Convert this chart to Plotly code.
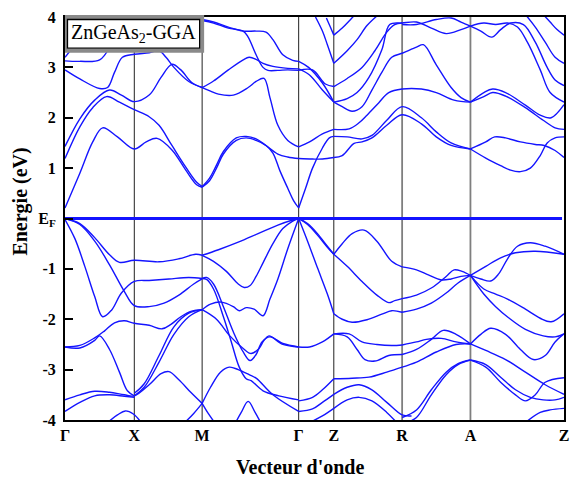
import plotly.graph_objects as go

# ---- high-symmetry path (k positions) ----
k_ticks = [65, 135, 203.5, 301, 336.5, 405.5, 474.5, 569]
k_labels = ['Γ', 'X', 'M', 'Γ', 'Z', 'R', 'A', 'Z']
e_ticks = [4, 3, 2, 1, 0, -1, -2, -3, -4]
e_labels = ['4', '3', '2', '1', 'E<sub>F</sub>', '-1', '-2', '-3', '-4']

# ---- Γ-X-M conduction ----
gxm_c1 = ([65, 80, 93, 103, 118, 135, 147, 158, 173, 187, 198, 203.5],
          [0.21, 0.9, 1.52, 1.8, 1.62, 1.38, 1.52, 1.59, 1.36, 0.96, 0.67, 0.62])
gxm_c2 = ([65, 80, 93, 107, 120, 135, 150, 160, 173, 187, 198, 203.5],
          [1.19, 1.82, 2.2, 2.42, 2.31, 2.16, 2.02, 1.85, 1.45, 1.02, 0.72, 0.64])
gxm_c3 = ([65, 80, 95, 110, 122, 135, 150, 162, 173, 182, 193, 203.5],
          [1.43, 1.98, 2.35, 2.55, 2.45, 2.32, 2.45, 2.8, 3.06, 2.95, 2.7, 2.6])
gxm_c4 = ([65, 80, 100, 108, 115, 123, 135, 150, 160, 167, 175, 190, 203.5],
          [2.95, 2.77, 2.58, 2.6, 2.9, 3.2, 3.26, 3.29, 3.33, 3.2, 3.0, 2.72, 2.6])
gxm_c5 = ([65, 80, 100, 110], [3.13, 3.12, 3.15, 3.4])
gxm_c6 = ([65, 75], [3.2, 3.45])

# ---- Γ-X-M valence ----
gxm_v1 = ([65, 80, 95, 110, 120, 135, 160, 180, 197, 203.5],
          [0, -0.1, -0.38, -0.72, -0.87, -0.83, -0.86, -0.8, -0.71, -0.73])
gxm_v2 = ([65, 80, 95, 110, 125, 135, 150, 165, 180, 195, 203.5],
          [0, -0.12, -0.45, -0.92, -1.45, -1.73, -1.75, -1.68, -1.52, -1.3, -1.2])
gxm_v3 = ([65, 75, 85, 95, 103, 112, 122, 135, 150, 170, 190, 203.5],
          [-0.02, -0.4, -0.95, -1.55, -1.95, -1.82, -1.48, -1.25, -1.23, -1.2, -1.17, -1.19])
gxm_v4 = ([65, 80, 95, 105, 115, 125, 135, 150, 163, 172, 182, 193, 203.5],
          [-2.55, -2.52, -2.37, -2.23, -2.07, -2.03, -2.08, -2.12, -2.19, -2.1, -1.95, -1.84, -1.81])
gxm_v5 = ([65, 80, 95, 100, 110, 120, 128, 135],
          [-2.55, -2.57, -2.42, -2.33, -2.6, -3.05, -3.42, -3.52])
gxm_v6 = ([135, 145, 160, 175, 190, 203.5], [-3.52, -3.35, -2.85, -2.3, -1.95, -1.81])
gxm_v7 = ([135, 145, 160, 175, 190, 203.5], [-3.47, -3.28, -2.72, -2.15, -1.88, -1.81])
gxm_v8 = ([65, 80, 95, 110, 125, 135, 150, 162, 170, 180, 192, 203.5],
          [-3.6, -3.5, -3.43, -3.45, -3.5, -3.52, -3.3, -3.08, -3.04, -3.2, -3.45, -3.67])
gxm_v9 = ([65, 80, 95, 110, 125, 135], [-3.83, -3.65, -3.52, -3.5, -3.53, -3.55])
gxm_v10 = ([108, 118, 126, 134, 142], [-4.05, -3.9, -3.82, -3.88, -4.05])
gxm_v11 = ([186, 195, 203.5], [-4.05, -3.87, -3.67])

# ---- M-Γ conduction ----
mg_c1 = ([203.5, 211, 218, 225, 238, 248, 258, 268, 275, 282, 290, 296, 301],
         [0.62, 0.75, 1.0, 1.28, 1.55, 1.6, 1.55, 1.45, 1.3, 0.95, 0.6, 0.35, 0.21])
mg_c2 = ([203.5, 211, 218, 225, 238, 248, 258, 268, 280, 290, 301],
         [0.63, 0.8, 1.06, 1.33, 1.6, 1.63, 1.58, 1.45, 1.28, 1.22, 1.19])
mg_c3 = ([203.5, 212, 220, 235, 250, 258, 266, 272, 280, 290, 301],
         [2.6, 2.53, 2.47, 2.45, 2.6, 2.72, 2.78, 2.4, 1.85, 1.55, 1.42])
mg_c4 = ([203.5, 215, 230, 245, 251, 258, 265, 275, 290, 301],
         [2.6, 2.73, 2.95, 3.15, 3.2, 3.16, 3.08, 3.02, 2.98, 2.97])
mg_c5 = ([203.5, 215, 230, 245, 250, 258, 265, 270, 280, 290, 301],
         [3.93, 3.88, 3.78, 3.72, 3.6, 3.25, 3.0, 2.94, 2.94, 2.95, 2.94])
mg_c6 = ([203.5, 215, 230, 245, 258, 268, 275, 285, 295, 301],
         [3.95, 3.9, 3.8, 3.72, 3.72, 3.7, 3.55, 3.25, 3.14, 3.12])

# ---- M-Γ valence ----
mg_vA = ([203.5, 220, 240, 260, 280, 295, 301], [-0.73, -0.62, -0.47, -0.3, -0.13, -0.03, 0])
mg_vB = ([203.5, 215, 228, 240, 246, 252, 258, 265, 275, 285, 295, 301],
         [-0.73, -0.85, -1.05, -1.3, -1.37, -1.33, -1.15, -0.88, -0.5, -0.2, -0.05, 0])
mg_vC = ([203.5, 212, 223, 235, 241, 248, 256, 265, 272, 280, 290, 301],
         [-1.81, -1.7, -1.66, -1.75, -1.83, -1.77, -1.8, -1.93, -1.6, -1.2, -0.6, 0])
mg_vD = ([203.5, 208, 215, 225, 235, 245, 252, 258, 264, 272, 285, 301],
         [-1.19, -1.17, -1.3, -1.75, -2.25, -2.65, -2.82, -2.7, -2.45, -2.35, -2.48, -2.55])
mg_vE = ([203.5, 208, 215, 225, 233, 241, 248, 253, 265, 281, 301],
         [-1.19, -1.21, -1.4, -1.95, -2.45, -2.95, -3.18, -3.22, -3.42, -3.52, -3.6])
mg_vF = ([203.5, 218, 231, 245, 253, 261, 266, 271, 285, 301],
         [-1.81, -2.0, -2.32, -2.58, -2.68, -2.58, -2.42, -2.33, -2.5, -2.55])
mg_vG = ([203.5, 212, 222, 231, 240, 251, 258, 275, 301],
         [-3.67, -3.35, -3.05, -2.95, -3.0, -3.1, -3.17, -3.5, -3.83])
mg_vH = ([236, 243, 250, 257, 264], [-4.1, -3.85, -3.63, -3.85, -4.1])
mg_v8b = ([203.5, 210, 218], [-3.67, -3.88, -4.1])

# ---- Γ-Z ----
gz_c1 = ([301, 308, 315, 325, 332, 336.5], [0.21, 0.6, 1.0, 1.4, 1.6, 1.63])
gz_c2 = ([301, 315, 325, 336.5], [1.19, 1.18, 1.18, 1.21])
gz_c3 = ([301, 312, 325, 336.5], [1.42, 1.52, 1.68, 1.77])
gz_c4 = ([301, 312, 325, 336.5], [2.97, 2.85, 2.55, 2.31])
gz_c5 = ([301, 315, 328, 336.5], [2.94, 2.95, 2.67, 2.62])
gz_c6 = ([301, 311, 325, 336.5], [3.12, 3.0, 2.69, 2.31])
gz_c7 = ([318, 325, 330, 336.5], [4.0, 3.72, 3.45, 3.08])
gz_c8 = ([329, 333, 336.5], [3.98, 3.8, 3.64])
gz_vA = ([301, 310, 320, 330, 336.5], [0, -0.1, -0.3, -0.55, -0.71])
gz_vB = ([301, 310, 320, 330, 336.5], [0, -0.12, -0.33, -0.57, -0.71])
gz_vC = ([301, 310, 320, 330, 336.5], [0, -0.45, -0.98, -1.5, -1.89])
gz_vD = ([301, 312, 325, 336.5], [-2.55, -2.55, -2.45, -2.29])
gz_v1 = ([301, 315, 325, 336.5], [-3.62, -3.55, -3.4, -3.18])
gz_v2 = ([301, 315, 325, 336.5], [-3.83, -3.78, -3.65, -3.49])
gz_v3 = ([312, 325, 336.5], [-4.05, -3.92, -3.77])

# ---- Z-R-A-Z conduction ----
zra_c1 = ([336.5, 345, 357, 365, 375, 390, 405.5, 425, 440, 455, 474.5],
          [1.21, 1.25, 1.49, 1.52, 1.6, 1.85, 2.06, 1.88, 1.62, 1.45, 1.38])
zra_c2 = ([336.5, 350, 365, 375, 390, 405.5, 425, 440, 455, 474.5],
          [1.63, 1.62, 1.58, 1.65, 1.95, 2.22, 2.0, 1.72, 1.5, 1.38])
zra_c3 = ([336.5, 352, 362, 370, 382, 392, 405.5, 425, 440, 458, 474.5],
          [1.77, 1.78, 1.9, 2.05, 2.3, 2.5, 2.57, 2.57, 2.5, 2.35, 2.31])
zra_c4 = ([336.5, 345, 355, 365, 375, 385, 395, 405.5, 420, 427, 440, 455, 465, 474.5],
          [2.31, 2.22, 2.13, 2.22, 2.55, 2.9, 3.2, 3.28, 3.4, 3.45, 3.05, 2.6, 2.4, 2.31])
zra_c5 = ([336.5, 350, 365, 378, 390, 398, 405.5], [2.62, 2.78, 3.0, 3.33, 3.7, 3.85, 3.88])
zra_c6 = ([336.5, 350, 360, 370, 380], [3.08, 3.33, 3.55, 3.83, 4.02])
zra_c7 = ([336.5, 345, 352, 358], [3.64, 3.78, 3.92, 4.05])
zra_c8 = ([336.5, 350, 360, 372, 385, 393, 405.5, 420, 435, 450, 465, 474.5],
          [2.31, 2.38, 2.5, 2.8, 3.35, 3.85, 3.88, 3.9, 3.78, 3.67, 3.75, 3.82])
zra_c9 = ([405.5, 420, 440, 455, 465, 474.5], [3.85, 3.85, 3.95, 3.98, 3.9, 3.82])
az_c1 = ([474.5, 490, 499, 510, 525, 540, 549, 560, 569], [1.38, 1.52, 1.62, 1.6, 1.52, 1.47, 1.45, 1.35, 1.21])
az_c2 = ([474.5, 490, 505, 515, 525, 535, 545, 552, 560, 569], [1.38, 1.2, 1.05, 0.96, 0.93, 1.0, 1.25, 1.5, 1.6, 1.62])
az_c3 = ([474.5, 488, 497, 510, 530, 545, 556, 569], [2.31, 2.5, 2.57, 2.5, 2.25, 2.05, 2.0, 2.26])
az_c4 = ([474.5, 488, 497, 510, 530, 548, 560, 569], [2.31, 2.42, 2.5, 2.43, 2.2, 1.95, 1.8, 1.77])
az_c5 = ([474.5, 485, 496, 505, 515, 528, 540, 552, 560, 569], [3.82, 3.72, 3.6, 3.75, 3.88, 3.85, 3.5, 3.0, 2.75, 2.64])
az_c6 = ([474.5, 488, 500, 512, 522, 532, 545, 555, 569], [3.82, 3.88, 3.85, 3.88, 3.8, 3.5, 2.95, 2.5, 2.31])
az_c7 = ([530, 540, 550, 560, 569], [4.05, 3.8, 3.5, 3.2, 3.08])
az_c8 = ([548, 555, 562, 569], [4.05, 3.9, 3.75, 3.64])

# ---- Z-R-A-Z valence ----
zr_v1 = ([336.5, 345, 355, 367, 380, 395, 405.5], [-0.71, -0.5, -0.3, -0.23, -0.45, -0.85, -0.96])
zr_v2 = ([336.5, 350, 365, 380, 392, 398, 405.5], [-0.71, -0.95, -1.25, -1.52, -1.67, -1.63, -1.59])
zr_v3 = ([336.5, 345, 355, 370, 385, 395, 405.5], [-1.89, -2.0, -2.06, -2.01, -1.9, -1.83, -1.86])
zr_v4 = ([336.5, 352, 365, 380, 395, 405.5], [-2.29, -2.29, -2.45, -2.5, -2.52, -2.51])
zr_v5 = ([336.5, 350, 360, 368, 378, 392, 405.5], [-2.29, -2.35, -2.6, -2.8, -2.83, -2.72, -2.7])
zr_v6 = ([336.5, 355, 372, 390, 405.5], [-3.18, -3.17, -3.15, -3.05, -2.95])
zr_v7 = ([336.5, 350, 362, 375, 390, 405.5, 415], [-3.49, -3.35, -3.3, -3.4, -3.65, -3.9, -3.92])
zr_v8 = ([336.5, 350, 362, 375, 390, 400], [-3.77, -3.6, -3.55, -3.62, -3.85, -4.05])
ra_v1 = ([405.5, 420, 432, 445, 455, 465, 474.5], [-0.96, -1.02, -1.12, -1.22, -1.2, -1.15, -1.13])
ra_v2 = ([405.5, 420, 435, 450, 458, 466, 474.5], [-1.59, -1.52, -1.38, -1.15, -1.02, -1.05, -1.13])
ra_v3 = ([405.5, 420, 435, 450, 462, 474.5], [-1.86, -1.8, -1.68, -1.48, -1.28, -1.13])
ra_v4 = ([405.5, 420, 430, 445, 460, 474.5], [-2.51, -2.45, -2.4, -2.38, -2.45, -2.49])
ra_v5 = ([405.5, 420, 435, 447, 460, 474.5], [-2.7, -2.6, -2.4, -2.22, -2.3, -2.49])
ra_v6 = ([405.5, 420, 440, 460, 474.5], [-2.95, -2.85, -2.65, -2.5, -2.49])
ra_v7 = ([405.5, 420, 435, 450, 462, 474.5], [-3.95, -3.8, -3.4, -3.05, -2.88, -2.81])
ra_v8 = ([410, 420, 435, 450, 462, 474.5], [-4.05, -3.95, -3.5, -3.1, -2.9, -2.81])
az_v1 = ([474.5, 490, 505, 520, 540, 569], [-1.13, -0.95, -0.78, -0.68, -0.65, -0.71])
az_v2 = ([474.5, 485, 495, 503, 512, 522, 535, 550, 569], [-1.13, -1.2, -1.24, -1.1, -0.8, -0.55, -0.48, -0.55, -0.71])
az_v3 = ([474.5, 488, 500, 512, 530, 545, 556, 569], [-1.13, -1.4, -1.5, -1.6, -1.8, -1.98, -2.05, -1.89])
az_v4 = ([474.5, 488, 500, 513, 530, 548, 560, 569], [-1.13, -1.5, -1.75, -1.97, -2.2, -2.33, -2.35, -2.29])
az_v5 = ([474.5, 485, 495, 510, 525, 538, 550, 560, 569], [-2.49, -2.3, -2.18, -2.3, -2.6, -2.8, -2.72, -2.45, -2.29])
az_v6 = ([474.5, 490, 510, 530, 550, 569], [-2.49, -2.62, -2.8, -3.05, -3.3, -3.49])
az_v7 = ([474.5, 490, 505, 520, 535, 548, 560, 569], [-2.81, -2.9, -3.15, -3.4, -3.55, -3.6, -3.6, -3.55])
az_v8 = ([474.5, 490, 505, 520, 530, 540, 550, 569], [-2.81, -2.95, -3.25, -3.5, -3.62, -3.5, -3.25, -3.16])
az_v9 = ([530, 545, 555, 569], [-4.05, -3.85, -3.8, -3.77])

bands = [gxm_c1, gxm_c2, gxm_c3, gxm_c4, gxm_c5, gxm_c6,
         gxm_v1, gxm_v2, gxm_v3, gxm_v4, gxm_v5, gxm_v6, gxm_v7, gxm_v8, gxm_v9, gxm_v10, gxm_v11,
         mg_c1, mg_c2, mg_c3, mg_c4, mg_c5, mg_c6,
         mg_vA, mg_vB, mg_vC, mg_vD, mg_vE, mg_vF, mg_vG, mg_vH, mg_v8b,
         gz_c1, gz_c2, gz_c3, gz_c4, gz_c5, gz_c6, gz_c7, gz_c8,
         gz_vA, gz_vB, gz_vC, gz_vD, gz_v1, gz_v2, gz_v3,
         zra_c1, zra_c2, zra_c3, zra_c4, zra_c5, zra_c6, zra_c7, zra_c8, zra_c9,
         az_c1, az_c2, az_c3, az_c4, az_c5, az_c6, az_c7, az_c8,
         zr_v1, zr_v2, zr_v3, zr_v4, zr_v5, zr_v6, zr_v7, zr_v8,
         ra_v1, ra_v2, ra_v3, ra_v4, ra_v5, ra_v6, ra_v7, ra_v8,
         az_v1, az_v2, az_v3, az_v4, az_v5, az_v6, az_v7, az_v8, az_v9]

BLUE = '#1414ff'
SERIF = 'Liberation Serif, Times New Roman, serif'

fig = go.Figure()
for k, e in bands:
    fig.add_trace(go.Scatter(x=k, y=e, mode='lines', hoverinfo='skip', showlegend=False,
                             line=dict(color=BLUE, width=1.4, shape='spline', smoothing=1.0)))

# Fermi level
fig.add_trace(go.Scatter(x=[k_ticks[0], k_ticks[-1] - 2], y=[0, 0], mode='lines', hoverinfo='skip',
                         showlegend=False, line=dict(color=BLUE, width=3)))

shapes = []
line_cols = [None, '#222222', '#222222', '#222222', '#222222', '#7f7f7f', '#7f7f7f', None]
line_w = [0, 1, 1, 1, 1, 1.8, 1.8, 0]
for kv, col, w in zip(k_ticks, line_cols, line_w):
    if col is None:
        continue
    shapes.append(dict(type='line', xref='x', yref='paper', x0=kv, x1=kv, y0=0, y1=1,
                       line=dict(color=col, width=w), layer='below'))

# label box (top-left)
shapes.append(dict(type='rect', xref='x', yref='paper', x0=65, x1=203.5, y0=1 - 34 / 407, y1=1,
                   fillcolor='white', line=dict(color='#8a8a8a', width=4), layer='above'))
shapes.append(dict(type='rect', xref='x', yref='paper', x0=67.5, x1=201, y0=1 - 31.5 / 407, y1=1 - 2.5 / 407,
                   fillcolor='white', line=dict(color='black', width=1.3), layer='above'))

annotations = [
    dict(text='ZnGeAs<sub>2</sub>-GGA', xref='x', yref='paper', x=134.5, y=1 - 17 / 407,
         xanchor='center', yanchor='middle', showarrow=False,
         font=dict(family=SERIF, size=20, color='black')),
    dict(text='<b>Energie (eV)</b>', xref='paper', yref='paper', x=-45 / 504, y=(420 - 199) / 407,
         textangle=-90, xanchor='center', yanchor='middle', showarrow=False,
         font=dict(family=SERIF, size=20, color='black')),
    dict(text="<b>Vecteur d'onde</b>", xref='paper', yref='paper', x=(302 - 65) / 504, y=(420 - 467) / 407,
         xanchor='center', yanchor='middle', showarrow=False,
         font=dict(family=SERIF, size=20, color='black')),
]

fig.update_layout(
    width=578, height=481,
    margin=dict(l=65, r=9, t=13, b=61),
    paper_bgcolor='white', plot_bgcolor='white',
    shapes=shapes, annotations=annotations,
    xaxis=dict(range=[k_ticks[0], k_ticks[-1]], tickvals=k_ticks,
               ticktext=['<b>%s</b>' % t for t in k_labels], ticks='', showgrid=False, zeroline=False,
               showline=True, linecolor='black', linewidth=2, mirror=True,
               tickfont=dict(family=SERIF, size=16, color='black')),
    yaxis=dict(range=[-4, 4], tickvals=e_ticks, ticktext=['<b>%s</b>' % t for t in e_labels],
               ticks='inside', ticklen=8, tickwidth=2, tickcolor='black', showgrid=False, zeroline=False,
               showline=True, linecolor='black', linewidth=2, mirror=True, ticklabelstandoff=4,
               tickfont=dict(family=SERIF, size=16, color='black')),
)

fig.write_html('out.html')
